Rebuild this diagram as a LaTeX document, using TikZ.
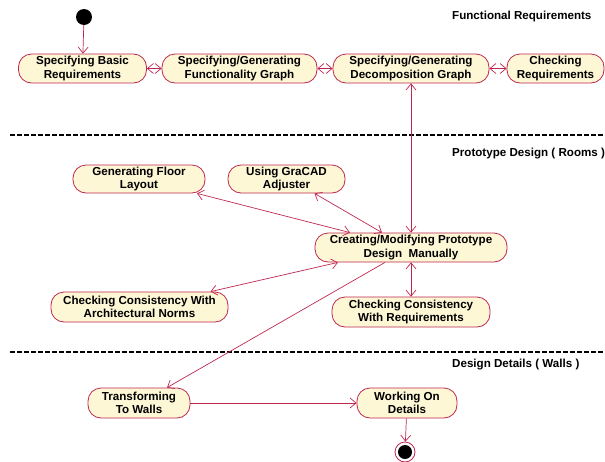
\documentclass[tikz,border=0pt]{standalone}
\usepackage{fontspec}
\setmainfont{Liberation Sans}
\usetikzlibrary{arrows.meta}
\definecolor{edgecol}{RGB}{190,40,80}
\definecolor{fillcol}{RGB}{253,247,214}
\tikzset{
  act/.style={draw=edgecol, fill=fillcol, line width=0.8pt, rounded corners=13pt,
    minimum height=29pt, inner sep=1pt, align=center,
    font=\fontsize{11.6}{13.5}\selectfont\bfseries},
  conn/.style={draw=edgecol, line width=0.7pt},
  hd/.style={-{Straight Barb[length=6pt,width=10pt]}},
  bhd/.style={{Straight Barb[length=6pt,width=10pt]}-{Straight Barb[length=6pt,width=10pt]}},
  swim/.style={black, line width=1.4pt, dash pattern=on 5pt off 2pt},
  lane/.style={anchor=west, inner sep=0pt, font=\fontsize{11.6}{13}\selectfont\bfseries}
}
\begin{document}
\begin{tikzpicture}[x=1pt,y=-1pt]
\useasboundingbox (0,0) rectangle (605,461);
% swimlane separators
\coordinate (d1a) at (10,135); \coordinate (d1b) at (605,135);
\coordinate (d2a) at (10,352); \coordinate (d2b) at (605,352);
\draw[swim] (d1a) -- (d1b);
\draw[swim] (d2a) -- (d2b);
\node[lane] (l1) at (452,16) {Functional Requirements};
\node[lane] (l2) at (452,154) {Prototype Design ( Rooms )};
\node[lane] (l3) at (452,365) {Design Details ( Walls )};
% start / end
\node[circle, fill=black, minimum size=16pt, inner sep=0pt] (start) at (84,17) {};
\node[circle, draw=edgecol, line width=0.8pt, fill=white, minimum size=20pt, inner sep=0pt] (end) at (405,452) {};
\node[circle, fill=black, minimum size=14pt, inner sep=0pt] (endin) at (405,452) {};
% activities
\node[act, minimum width=128pt] (basic) at (82.5,68.5) {Specifying Basic\\Requirements};
\node[act, minimum width=155pt] (func) at (239.5,68.5) {Specifying/Generating\\Functionality Graph};
\node[act, minimum width=156pt] (decomp) at (411,68.5) {Specifying/Generating\\Decomposition Graph};
\node[act, minimum width=97pt] (check) at (555.5,68.5) {Checking\\Requirements};
\node[act, minimum width=132pt, minimum height=28pt] (floor) at (139,179) {Generating Floor\\Layout};
\node[act, minimum width=117pt, minimum height=28pt] (gracad) at (286.5,179) {Using GraCAD\\Adjuster};
\node[act, minimum width=192pt] (create) at (411,247.5) {Creating/Modifying Prototype\\Design\ \ Manually};
\node[act, minimum width=177pt, minimum height=30pt] (arch) at (139.5,307) {Checking Consistency With\\Architectural Norms};
\node[act, minimum width=158pt, minimum height=30pt] (checkreq) at (411,312) {Checking Consistency\\With Requirements};
\node[act, minimum width=102pt, minimum height=30pt] (trans) at (139,403) {Transforming\\To Walls};
\node[act, minimum width=100pt, minimum height=30pt] (work) at (407,403) {Working On\\Details};
% connectors
\draw[conn, hd] (start) -- (basic);
\draw[conn, bhd] (basic) -- (func);
\draw[conn, bhd] (func) -- (decomp);
\draw[conn, bhd] (decomp) -- (check);
\draw[conn, bhd] (decomp) -- (create);
\draw[conn, bhd] ([xshift=58pt]floor.south) -- ([xshift=-61pt]create.north);
\draw[conn, bhd] ([xshift=28pt]gracad.south) -- ([xshift=-29pt]create.north);
\draw[conn, bhd] ([xshift=-73pt]create.south) -- ([xshift=71pt]arch.north);
\draw[conn, hd] ([xshift=-26pt]create.south) -- ([xshift=28pt]trans.north);
\draw[conn, bhd] (create) -- (checkreq);
\draw[conn, hd] (trans) -- (work);
\draw[conn, hd] (work) -- (end);
\end{tikzpicture}
\end{document}
